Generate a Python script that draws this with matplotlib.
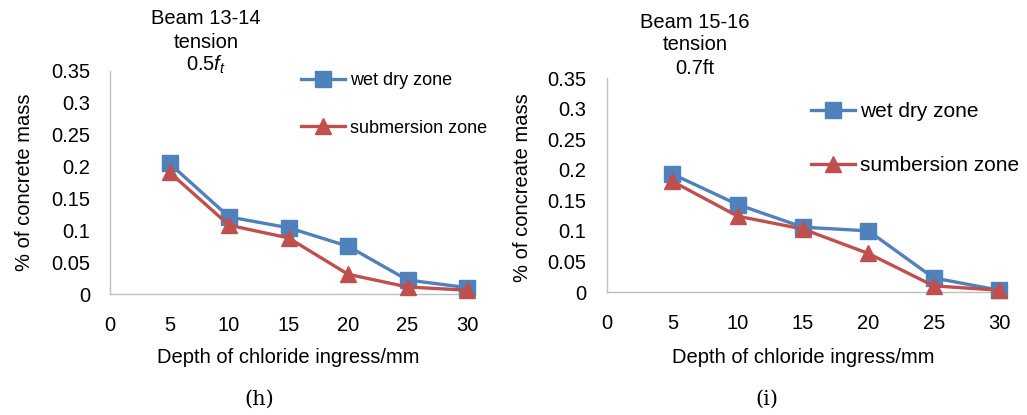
import matplotlib
matplotlib.use("Agg")
import matplotlib.pyplot as plt

plt.rcParams['font.family'] = ['Liberation Sans', 'DejaVu Sans']
plt.rcParams['mathtext.fontset'] = 'custom'
plt.rcParams['mathtext.it'] = 'Liberation Sans:italic'
plt.rcParams['mathtext.rm'] = 'Liberation Sans'

# Depth of chloride ingress (mm)
depth = [5, 10, 15, 20, 25, 30]
x_ticks = [0, 5, 10, 15, 20, 25, 30]
y_ticks = [0, 0.05, 0.1, 0.15, 0.2, 0.25, 0.3, 0.35]
y_tick_labels = ['0', '0.05', '0.1', '0.15', '0.2', '0.25', '0.3', '0.35']

# Panel (h): Beam 13-14
h_wet_dry = [0.205, 0.121, 0.104, 0.075, 0.022, 0.010]
h_submersion = [0.191, 0.108, 0.088, 0.031, 0.011, 0.006]

# Panel (i): Beam 15-16
i_wet_dry = [0.193, 0.143, 0.106, 0.100, 0.023, 0.003]
i_submersion = [0.181, 0.124, 0.103, 0.063, 0.010, 0.003]

BLUE = '#4F81BD'
RED = '#C0504D'
W, H = 1027, 415


def fx(px):
    return px / W


def fy(py):
    return 1 - py / H


fig = plt.figure(figsize=(10.27, 4.15), dpi=100)


def make_panel(rect, wet, sub, labels, ylabel, title_lines, title_x, title_y0,
               leg_xy, leg_font, leg_spacing, caption, cap_x, ylab_x, ylab_y,
               xlab_x, ypad):
    ax = fig.add_axes(rect)
    ax.plot(depth, wet, color=BLUE, lw=2.4, marker='s', ms=12,
            label=labels[0], clip_on=False, zorder=3)
    ax.plot(depth, sub, color=RED, lw=2.4, marker='^', ms=11,
            label=labels[1], clip_on=False, zorder=4)
    ax.set_xlim(0, 30)
    ax.set_ylim(0, 0.35)
    ax.set_xticks(x_ticks)
    ax.set_yticks(y_ticks)
    ax.set_yticklabels(y_tick_labels)
    ax.tick_params(length=0, labelsize=14.5)
    ax.tick_params(axis='x', pad=16)
    ax.tick_params(axis='y', pad=ypad)
    for s in ['top', 'right']:
        ax.spines[s].set_visible(False)
    for s in ['left', 'bottom']:
        ax.spines[s].set_color('#BFBFBF')
        ax.spines[s].set_linewidth(1.0)

    em = leg_font * 100 / 72
    ax.legend(loc='upper left', bbox_to_anchor=(fx(leg_xy[0]), fy(leg_xy[1])),
              bbox_transform=fig.transFigure, frameon=False, fontsize=leg_font,
              borderpad=0, borderaxespad=0, handlelength=44 / em,
              handletextpad=5 / em, labelspacing=leg_spacing)

    for k, line in enumerate(title_lines):
        fig.text(fx(title_x), fy(title_y0 + 23 * k), line, ha='center', va='center',
                 fontsize=14.5)
    fig.text(fx(ylab_x), fy(ylab_y), ylabel, rotation=90, ha='center', va='center',
             fontsize=14.5)
    fig.text(fx(xlab_x), fy(357), 'Depth of chloride ingress/mm', ha='center',
             va='center', fontsize=14.5)
    fig.text(fx(cap_x), fy(399), caption, ha='center', va='center', fontsize=15,
             family='DejaVu Serif')
    return ax


make_panel([fx(110), fy(294), fx(357), (294 - 71) / H], h_wet_dry, h_submersion,
           ['wet dry zone', 'submersion zone'], '% of concrete mass',
           ['Beam 13-14', 'tension', r'0.5$\mathit{f}_\mathit{t}$'], 206, 19,
           (301, 72), 13, 1.7, '(h)', 259, 25, 182, 288, 14)

make_panel([fx(607), fy(292), fx(392), (292 - 78) / H], i_wet_dry, i_submersion,
           ['wet dry zone', 'sumbersion zone'], '% of concreate mass',
           ['Beam 15-16', 'tension', '0.7ft'], 695, 22,
           (811, 102), 15, 1.7, '(i)', 767, 522, 188, 803, 15)

fig.savefig('out.png', dpi=100)
